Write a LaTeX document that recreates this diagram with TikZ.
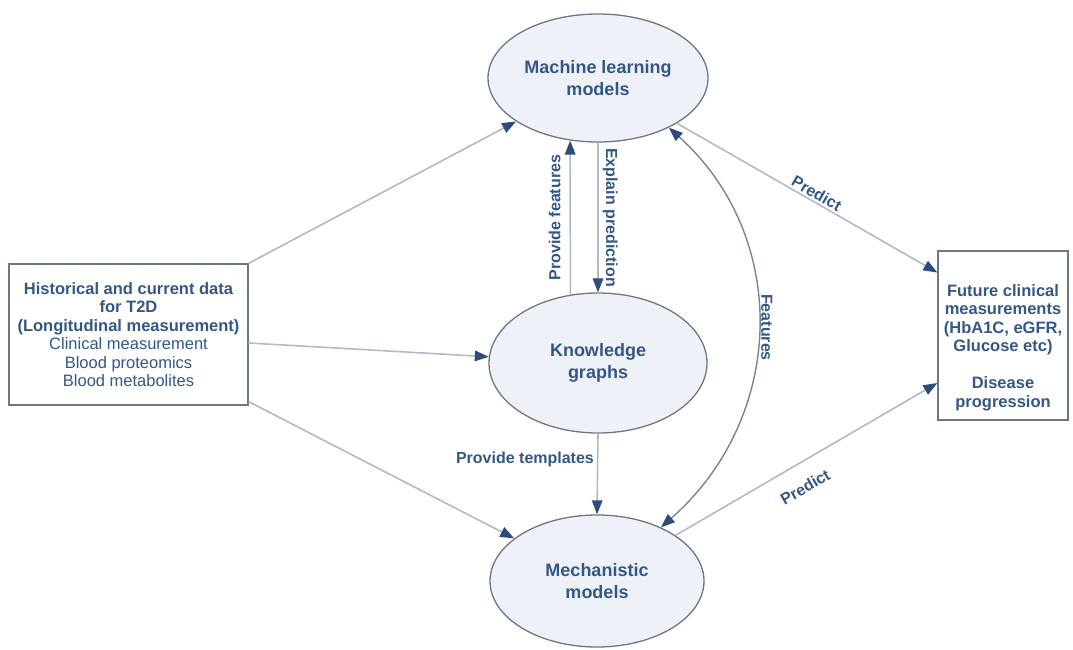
\documentclass[tikz,border=0pt]{standalone}
\usepackage{fontspec}
\setmainfont{Liberation Sans}
\usetikzlibrary{shapes.geometric,arrows.meta,calc}
\definecolor{txt}{HTML}{355786}
\definecolor{headc}{HTML}{2D4B7C}
\definecolor{linec}{HTML}{B3BAC5}
\definecolor{shapeb}{HTML}{6E7786}
\definecolor{efill}{HTML}{EEF2F8}
\definecolor{curvec}{HTML}{7A8494}
\tikzset{
  ell/.style={ellipse, draw=shapeb, fill=efill, line width=1.3pt, inner sep=0pt, align=center, text=txt, font=\fontsize{18}{22.5}\selectfont\bfseries},
  databox/.style={rectangle, draw=shapeb, fill=white, line width=1.3pt, inner sep=0pt, align=center, text=txt, font=\fontsize{16.5}{18.5}\selectfont},
  boxtext/.style={inner sep=0pt, align=center, text=txt, font=\fontsize{16.5}{18.5}\selectfont\bfseries},
  arr/.style={draw=linec, line width=1.6pt, -{Triangle[length=14pt,width=10.5pt,color=headc]}},
  dbl/.style={draw=curvec, line width=1.4pt, {Triangle[length=14pt,width=10.5pt,color=headc]}-{Triangle[length=14pt,width=10.5pt,color=headc]}},
  lab/.style={text=txt, font=\fontsize{16}{19}\selectfont\bfseries, inner sep=3pt}
}
\begin{document}
\begin{tikzpicture}[x=1pt,y=-1pt]
\useasboundingbox (0,0) rectangle (1073,650);
\fill[white] (0,0) rectangle (1073,650);

% nodes
\node[ell, minimum width=220, minimum height=128] (ml) at (598,78) {Machine learning\\models};
\node[ell, minimum width=218, minimum height=140] (kg) at (598,363) {Knowledge\\graphs};
\node[ell, minimum width=214, minimum height=132] (mech) at (597,581) {Mechanistic\\models};

\node[databox, minimum width=239, minimum height=141] (lb) at (128.5,334.5)
  {\bfseries Historical and current data\\ \bfseries for T2D\\ \bfseries (Longitudinal measurement)\\
   Clinical measurement\\ Blood proteomics\\ Blood metabolites};

\node[databox, minimum width=130, minimum height=169] (fut) at (1003,335.5) {};
\node[boxtext] (futtext) at (1003,347.5)
  {Future clinical\\ measurements\\ (HbA1C, eGFR,\\ Glucose etc)\\[18.5pt] Disease\\ progression};

% connectors from the data box
\draw[arr] (lb.north east) -- (ml);
\draw[arr] ($(lb.east)+(0,8.5)$) -- (kg);
\draw[arr] ($(lb.south east)+(0,-4)$) -- (mech);

% between ML and KG
\draw[arr] (kg.112) -- node[lab, midway, rotate=90, anchor=south, yshift=6pt] {Provide features} (ml.-114);
\draw[arr] (ml.south) -- node[lab, midway, rotate=-90, anchor=south, yshift=1pt] {Explain prediction} (kg.north);

% KG to mechanistic
\draw[arr] (kg.south) -- node[lab, pos=.32, left] {Provide templates} (mech.north);

% features curve
\draw[dbl] (ml.-35) .. controls +(122,110) and +(125,-110) .. node[lab, pos=.5, rotate=-90, anchor=south, yshift=0pt] {Features} (mech.40);

% predictions
\draw[arr] (ml) -- node[lab, pos=.52, sloped, above=-1pt] {Predict} ($(fut.west)+(0,-63)$);
\draw[arr] (mech) -- node[lab, pos=.45, sloped, below=14pt] {Predict} ($(fut.west)+(0,47.5)$);
\end{tikzpicture}
\end{document}
